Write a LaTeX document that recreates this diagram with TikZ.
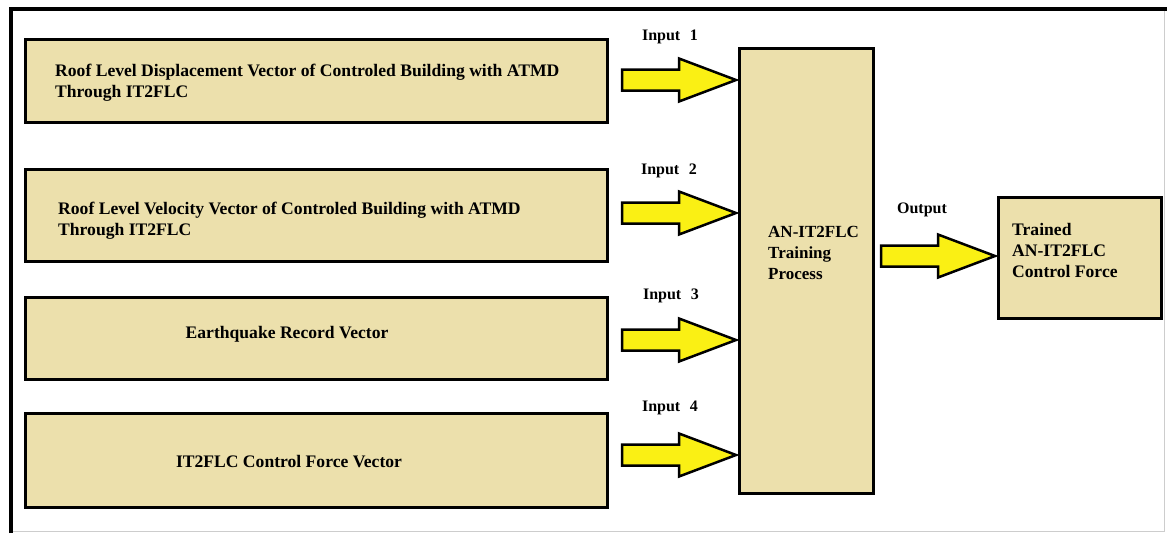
\documentclass[tikz,border=0pt]{standalone}
\usepackage{fontspec}
\setmainfont{Liberation Serif}
\usetikzlibrary{calc}
\definecolor{boxfill}{RGB}{236,224,172}
\definecolor{arrowfill}{RGB}{250,240,20}
\definecolor{framegray}{RGB}{205,205,205}
\tikzset{
  blk/.style={draw=black, line width=3pt, fill=boxfill, inner sep=0pt, anchor=north west},
  txt/.style={inner sep=0pt, font=\fontsize{17.6}{21}\selectfont\bfseries, align=left},
  ctxt/.style={inner sep=0pt, font=\fontsize{17}{21}\selectfont\bfseries, align=left},
  lbl/.style={inner sep=0pt, font=\fontsize{16}{19}\selectfont\bfseries},
  barrow/.style={draw=black, line width=2.5pt, fill=arrowfill, line join=miter},
}
\newcommand\blockarrow[1]{\filldraw[barrow] (#1) -- ++(-57,21.5) -- ++(0,-11) -- ++(-57,0) -- ++(0,-21) -- ++(57,0) -- ++(0,-11) -- cycle;}
\begin{document}
\begin{tikzpicture}[x=1pt,y=-1pt]
\useasboundingbox (0,0) rectangle (1167,533);
\fill[white] (0,0) rectangle (1167,533);
% outer frame
\draw[line width=1pt, framegray] (1164,9) -- (1164,531) -- (11,531);
\draw[line width=3.5pt] (11,533) -- (11,9) -- (1167,9);
% input boxes
\node[blk, minimum width=582pt, minimum height=83pt] (b1) at (24,38) {};
\node[blk, minimum width=582pt, minimum height=92pt] (b2) at (24,168) {};
\node[blk, minimum width=582pt, minimum height=82pt] (b3) at (24,296) {};
\node[blk, minimum width=582pt, minimum height=94pt] (b4) at (24,412) {};
% central and output boxes
\node[blk, minimum width=134pt, minimum height=445pt] (c) at (738,47) {};
\node[blk, minimum width=163pt, minimum height=121pt] (o) at (997,196) {};
% texts
\node[txt, anchor=west] (t1) at (55,82.5) {Roof Level Displacement Vector of Controled Building with ATMD\\Through IT2FLC};
\node[txt, anchor=west] (t2) at (58,221) {Roof Level Velocity Vector of Controled Building with ATMD\\Through IT2FLC};
\node[txt] (t3) at (287,334) {Earthquake Record Vector};
\node[txt] (t4) at (289,462) {IT2FLC Control Force Vector};
\node[ctxt, anchor=west] (tc) at (768,253) {AN-IT2FLC\\Training\\Process};
\node[txt, anchor=west] (to) at (1012,250) {Trained\\AN-IT2FLC\\Control Force};
% labels
\node[lbl] (l1) at (670,37) {Input\hspace{0.6em}1};
\node[lbl] (l2) at (669,171) {Input\hspace{0.6em}2};
\node[lbl] (l3) at (671,296) {Input\hspace{0.6em}3};
\node[lbl] (l4) at (670,408) {Input\hspace{0.6em}4};
\node[lbl] (lo) at (922,210) {Output};
% arrow tips
\coordinate (a1) at ($(c.west |- 0,80)+(-2,0)$);
\coordinate (a2) at ($(c.west |- 0,213)+(-2,0)$);
\coordinate (a3) at ($(c.west |- 0,340)+(-2,0)$);
\coordinate (a4) at ($(c.west |- 0,455)+(-2,0)$);
\coordinate (ao) at ($(o.west |- 0,256)+(-2,0)$);
\blockarrow{a1}
\blockarrow{a2}
\blockarrow{a3}
\blockarrow{a4}
\blockarrow{ao}
\end{tikzpicture}
\end{document}
